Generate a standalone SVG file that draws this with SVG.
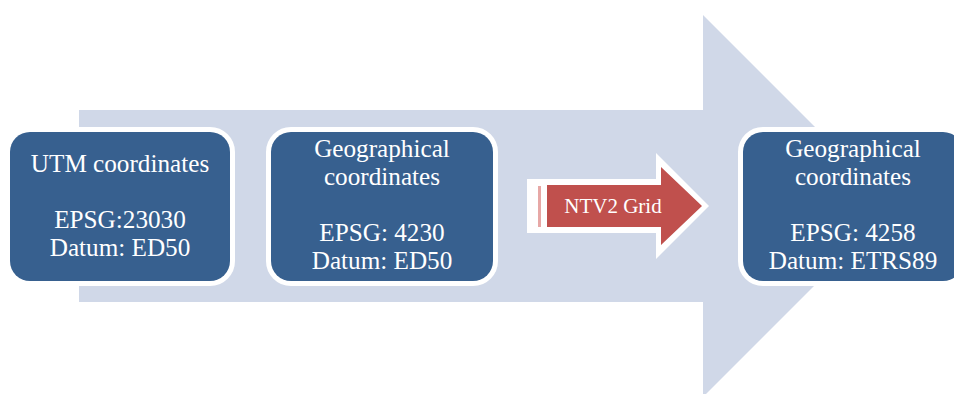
<svg xmlns="http://www.w3.org/2000/svg" width="954" height="394" viewBox="0 0 954 394">
  <style>
    .box { fill: #37608F; stroke: #FFFFFF; stroke-width: 10; paint-order: stroke; }
    .t { font-family: "Liberation Serif", "Times New Roman", serif; font-size: 25.2px; fill: #FFFFFF; text-anchor: middle; }
    .small { font-size: 21px; }
  </style>
  <rect width="954" height="394" fill="#FFFFFF"/>
  <g id="background-arrow">
    <polygon points="79,110 703,110 703,15 894,206 703,397 703,302 79,302" fill="#D0D8E8"/>
  </g>
  <g id="connectors">
    <g id="ntv2-arrow">
      <polygon points="527,179 656,179 656,153 709,206 656,259 656,233 527,233" fill="#FFFFFF"/>
      <rect x="538" y="186" width="3" height="41" fill="#E7A8A6"/>
      <polygon points="547,185 661,185 661,167 702,206 661,245 661,227 547,227" fill="#C0504D"/>
      <text class="t small" x="613" y="213">NTV2 Grid</text>
    </g>
  </g>
  <g id="node-utm">
    <rect class="box" x="10" y="132" width="220" height="149" rx="20" ry="20"/>
    <text class="t" x="120" y="172">UTM coordinates<tspan x="120" y="228">EPSG:23030</tspan><tspan x="120" y="256">Datum: ED50</tspan></text>
  </g>
  <g id="node-geo-ed50">
    <rect class="box" x="271" y="132" width="222" height="149" rx="20" ry="20"/>
    <text class="t" x="382" y="157">Geographical<tspan x="382" y="185">coordinates</tspan><tspan x="382" y="241">EPSG: 4230</tspan><tspan x="382" y="269">Datum: ED50</tspan></text>
  </g>
  <g id="node-geo-etrs89">
    <rect class="box" x="743" y="132" width="220" height="149" rx="20" ry="20"/>
    <text class="t" x="853" y="157">Geographical<tspan x="853" y="185">coordinates</tspan><tspan x="853" y="241">EPSG: 4258</tspan><tspan x="853" y="269">Datum: ETRS89</tspan></text>
  </g>
</svg>
